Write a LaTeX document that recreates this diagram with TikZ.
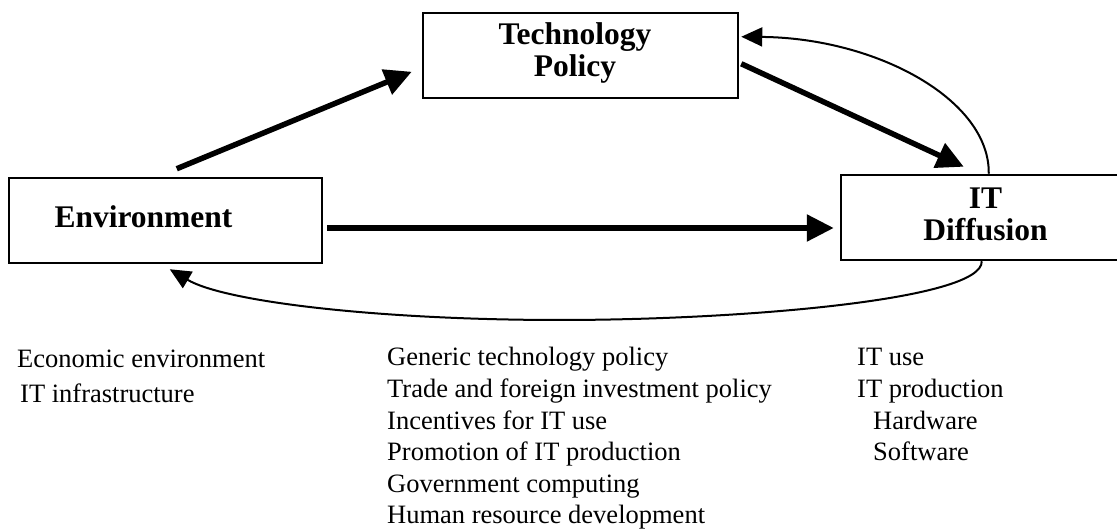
\documentclass[tikz,border=0pt]{standalone}
\usepackage{fontspec}
\setmainfont{Liberation Serif}
\usetikzlibrary{arrows.meta,calc}
\begin{document}
\begin{tikzpicture}[x=1pt,y=-1pt,
  box/.style={draw, line width=2.5pt, minimum height=85pt, inner sep=0pt},
  title/.style={font=\fontsize{31.5}{32}\selectfont\bfseries, inner sep=0pt, anchor=base},
  listtext/.style={font=\fontsize{26.5}{31.6}\selectfont, inner sep=0pt, anchor=base west},
  heavyarrow/.style={line width=5.5pt, -{Triangle[length=27pt,width=26pt]}},
  thinarrow/.style={line width=2pt, -{Triangle[length=21pt,width=19pt]}}
]
\useasboundingbox (0,0) rectangle (1117,529);
\fill[white] (0,0) rectangle (1117,529);
\clip (0,0) rectangle (1117,529);

% boxes
\node[box, minimum width=313pt] (env)  at (165.5,220.5) {};
\node[box, minimum width=315pt] (tech) at (580.5,55.5) {};
\node[box, minimum width=300pt] (itd)  at (991,217.5) {};

% box titles
\node[title] (envtitle) at (143.5,228) {Environment};
\node[title] (techtitle) at (575,45) {\begin{tabular}[t]{@{}c@{}}Technology\\Policy\end{tabular}};
\node[title] (itdtitle) at (985.5,209) {\begin{tabular}[t]{@{}c@{}}IT\\Diffusion\end{tabular}};

% heavy arrows
\draw[heavyarrow] ($(env.north west)+(169,-8)$) -- ($(tech.north west)+(-10,60)$);
\draw[heavyarrow] ($(tech.north east)+(2,52)$) -- ($(itd.north west)+(124,-7)$);
\draw[heavyarrow] ($(env.east)+(4,7.5)$) -- ($(itd.west)+(-6,10.5)$);

% feedback curves
\draw[thinarrow] ($(itd.north west)+(149,0)$)
  .. controls (990,100) and (877,38) .. ($(tech.north east)+(2,25)$);
\draw[thinarrow] ($(itd.south west)+(142,0)$)
  .. controls (983,300) and (740,320) .. (560,320)
  .. controls (380,320) and (225,302) .. ($(env.south west)+(162,5)$);

% factor lists
\node[listtext, font=\fontsize{26.5}{35}\selectfont] (envlist) at (17,368)
  {\begin{tabular}[t]{@{}l@{}}Economic environment\\\hspace*{3pt}IT infrastructure\end{tabular}};
\node[listtext] (policylist) at (387,366)
  {\begin{tabular}[t]{@{}l@{}}Generic technology policy\\Trade and foreign investment policy\\Incentives for IT use\\Promotion of IT production\\Government computing\\Human resource development\end{tabular}};
\node[listtext] (itdlist) at (857,366)
  {\begin{tabular}[t]{@{}l@{}}IT use\\IT production\\\hspace*{16pt}Hardware\\\hspace*{16pt}Software\end{tabular}};
\end{tikzpicture}
\end{document}
